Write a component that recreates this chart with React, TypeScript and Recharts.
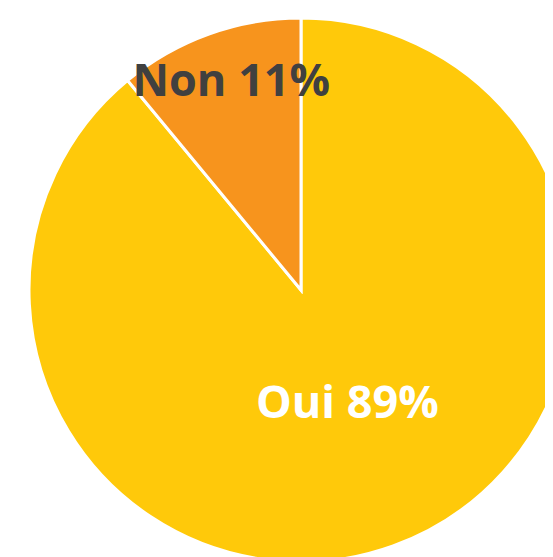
import { PieChart, Pie, Cell } from 'recharts';

// Survey answers
const labels = ['Oui', 'Non'];
const shares = [89, 11];
const sliceColors = ['#FFC90A', '#F7941D'];
const labelColors = ['#FFFFFF', '#404040'];

const data = labels.map((name, i) => ({ name, value: shares[i] }));

const RADIAN = Math.PI / 180;

// label sits at a fraction of the radius, along the slice's middle angle
const labelRadius = [0.46, 0.8];

const renderLabel = (props: any) => {
  const { cx, cy, midAngle, outerRadius, index, name, value } = props;
  const r = outerRadius * labelRadius[index];
  const x = cx + r * Math.cos(-midAngle * RADIAN) + 4;
  const y = cy + r * Math.sin(-midAngle * RADIAN) - 7;
  return (
    <text
      x={x}
      y={y}
      fill={labelColors[index]}
      textAnchor="middle"
      dominantBaseline="central"
      fontFamily="'Open Sans', sans-serif"
      fontWeight={700}
      fontSize={45}
    >
      {`${name} ${value}%`}
    </text>
  );
};

export default function App() {
  return (
    <div style={{ width: 545, height: 549, background: '#fff' }}>
      <PieChart
        width={545}
        height={549}
        margin={{ top: 0, right: 0, bottom: 0, left: 0 }}
        style={{ overflow: 'hidden' }}
      >
        <Pie
          data={data}
          dataKey="value"
          nameKey="name"
          cx={293}
          cy={282}
          outerRadius={272}
          innerRadius={0}
          startAngle={90}
          endAngle={-270}
          stroke="#FFFFFF"
          strokeWidth={3}
          label={renderLabel}
          labelLine={false}
          isAnimationActive={false}
        >
          {data.map((d, i) => (
            <Cell key={d.name} fill={sliceColors[i]} />
          ))}
        </Pie>
      </PieChart>
    </div>
  );
}
